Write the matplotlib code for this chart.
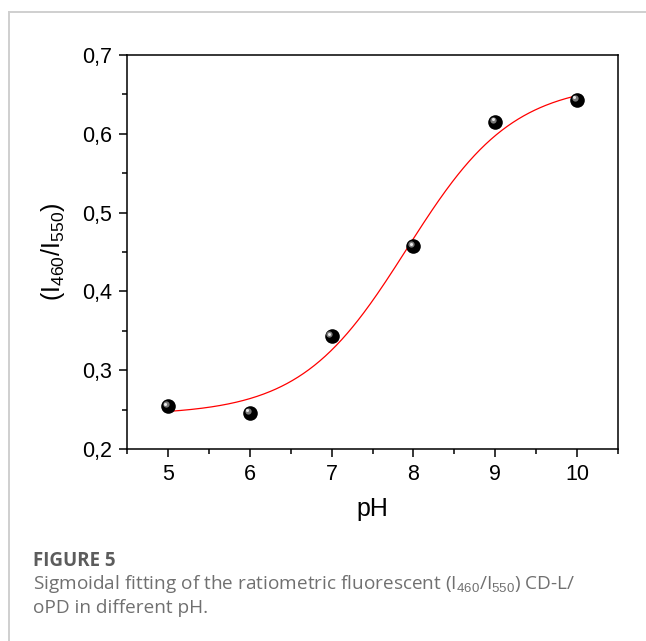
import numpy as np
import matplotlib
matplotlib.use("Agg")
import matplotlib.pyplot as plt
from matplotlib.ticker import MultipleLocator, FuncFormatter
from matplotlib.lines import Line2D
import matplotlib.transforms as mtransforms

# ---- data ----
ph = [5, 6, 7, 8, 9, 10]
ratio = [0.254, 0.246, 0.343, 0.457, 0.615, 0.643]
# Boltzmann sigmoidal fit parameters
fit_A1 = 0.243
fit_A2 = 0.665
fit_x0 = 7.92
fit_dx = 0.65
x_ticks = [5, 6, 7, 8, 9, 10]
y_ticks = [0.2, 0.3, 0.4, 0.5, 0.6, 0.7]

plt.rcParams['font.family'] = ['Liberation Sans', 'DejaVu Sans']
plt.rcParams['mathtext.fontset'] = 'custom'
plt.rcParams['mathtext.rm'] = 'Liberation Sans'
plt.rcParams['mathtext.it'] = 'Liberation Sans'
plt.rcParams['mathtext.bf'] = 'Liberation Sans:bold'
plt.rcParams['mathtext.default'] = 'rm'

fig = plt.figure(figsize=(6.46, 6.41), dpi=100)
ax = fig.add_axes([127/646, 1-449/641, (618-127)/646, (449-55)/641])

xf = np.linspace(5, 10, 300)
yf = fit_A2 + (fit_A1 - fit_A2) / (1 + np.exp((xf - fit_x0) / fit_dx))
ax.plot(xf, yf, color='#ff0000', lw=0.9, zorder=2)

# shiny black sphere markers
ax.plot(ph, ratio, 'o', color='black', ms=10.5, mec='black', mew=0, zorder=3)
off1 = mtransforms.offset_copy(ax.transData, fig=fig, x=-1.6, y=1.6, units='points')
ax.plot(ph, ratio, 'o', color='#7a7a7a', ms=4.5, mew=0, transform=off1, zorder=4)
off2 = mtransforms.offset_copy(ax.transData, fig=fig, x=-1.9, y=1.9, units='points')
ax.plot(ph, ratio, 'o', color='#e8e8e8', ms=2.2, mew=0, transform=off2, zorder=5)

ax.set_xlim(4.5, 10.5)
ax.set_ylim(0.2, 0.7)
ax.set_xticks(x_ticks)
ax.set_yticks(y_ticks)
ax.xaxis.set_minor_locator(MultipleLocator(0.5))
ax.yaxis.set_minor_locator(MultipleLocator(0.05))
ax.yaxis.set_major_formatter(FuncFormatter(lambda v, p: f"{v:.1f}".replace('.', ',')))
ax.tick_params(which='major', direction='out', length=6, width=1.1, labelsize=15.5, pad=4.5)
ax.tick_params(which='minor', direction='out', length=3.5, width=1.1)
ax.tick_params(top=False, right=False, which='both')
for s in ax.spines.values():
    s.set_linewidth(1.1)

ax.set_xlabel('pH', fontsize=18, labelpad=9)
ax.set_ylabel(r'(I$_{460}$/I$_{550}$)', fontsize=18, labelpad=11)

# card border
fig.add_artist(Line2D([9/646, 1], [1-12/641, 1-12/641], color='#cfcfcf', lw=1.4, transform=fig.transFigure))
fig.add_artist(Line2D([9/646, 9/646], [0, 1-12/641], color='#cfcfcf', lw=1.4, transform=fig.transFigure))

# caption
cap_font = ['Open Sans', 'DejaVu Sans']
fig.text(33/646, 1-561/641, 'FIGURE 5', fontsize=13.5, fontweight='bold', color='#5c5c5c',
         family=cap_font, va='center', ha='left')
fig.text(33/646, 1-584/641, 'Sigmoidal fitting of the ratiometric fluorescent (I$_{460}$/I$_{550}$) CD-L/',
         fontsize=13.7, color='#707070', family=cap_font, va='center', ha='left')
fig.text(33/646, 1-608/641, 'oPD in different pH.', fontsize=13.7, color='#707070',
         family=cap_font, va='center', ha='left')

fig.savefig('out.png', dpi=100)
